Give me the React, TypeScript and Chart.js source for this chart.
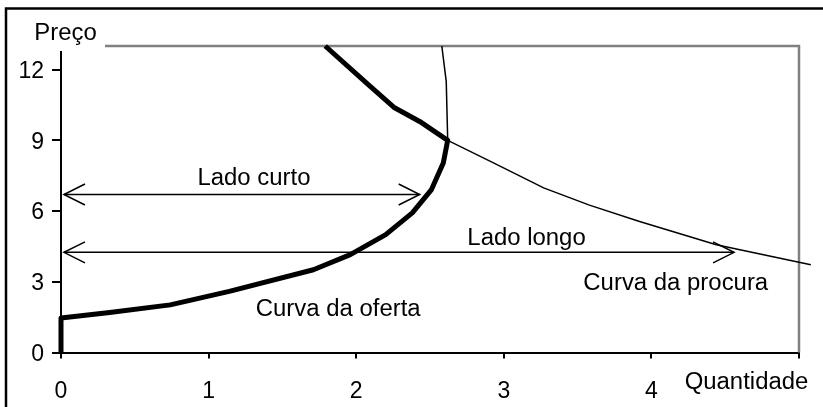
import React, { useEffect, useRef } from 'react';
import { Chart, registerables } from 'chart.js';

Chart.register(...registerables);

// ---- data ----
const xTickValues = [0, 1, 2, 3, 4, 5];
const xTickLabels = ['0', '1', '2', '3', '4', ''];
const yTickValues = [0, 3, 6, 9, 12];
const yTickLabels = ['0', '3', '6', '9', '12'];

const supplyQ = [0, 0, 0.33, 0.74, 1.14, 1.71, 1.96, 2.2, 2.38, 2.51, 2.59, 2.62, 2.43, 2.26, 2.08, 1.79];
const supplyP = [0, 1.46, 1.7, 2.02, 2.59, 3.51, 4.15, 5.0, 5.92, 6.91, 8.04, 9.0, 9.8, 10.38, 11.37, 13.0];

const demandQ = [2.58, 2.61, 2.62, 2.93, 3.27, 3.58, 3.92, 4.44, 5.08];
const demandP = [13.0, 11.5, 9.0, 8.04, 6.98, 6.25, 5.56, 4.57, 3.72];

const shortSideQ = [0.02, 2.43];
const shortSideP = [6.7, 6.7];
const longSideQ = [0.02, 4.56];
const longSideP = [4.25, 4.25];

const noteTexts = ['Lado curto', 'Lado longo', 'Curva da oferta', 'Curva da procura'];
const noteQ = [1.307, 3.154, 1.878, 4.165];
const noteP = [7.12, 4.57, 1.53, 2.63];

const yAxisTitle = 'Preço';
const xAxisTitle = 'Quantidade';

// ---- styles ----
const FONT = '"Liberation Sans", Arial, sans-serif';
const FONT_SIZE = 23;
const STRETCH = 1.04;

const toPts = (xs: number[], ys: number[]) => xs.map((x, i) => ({ x, y: ys[i] }));

function drawText(ctx: CanvasRenderingContext2D, text: string, x: number, y: number) {
  ctx.save();
  ctx.translate(x, y);
  ctx.scale(STRETCH, 1);
  ctx.fillText(text, 0, 0);
  ctx.restore();
}

const decor = {
  id: 'decor',
  beforeDatasetsDraw(chart: any) {
    const { ctx, chartArea: a } = chart;
    ctx.save();
    ctx.strokeStyle = '#808080';
    ctx.lineWidth = 2.5;
    ctx.beginPath();
    ctx.moveTo(a.left, a.top);
    ctx.lineTo(a.right, a.top);
    ctx.lineTo(a.right, a.bottom);
    ctx.stroke();
    ctx.restore();
  },
  afterDatasetsDraw(chart: any) {
    const { ctx, scales } = chart;
    ctx.save();
    ctx.strokeStyle = '#000';
    ctx.lineWidth = 1.5;
    [2, 3].forEach((i) => {
      const meta = chart.getDatasetMeta(i);
      const p0 = meta.data[0];
      const p1 = meta.data[meta.data.length - 1];
      const head = (x: number, y: number, dir: number) => {
        ctx.beginPath();
        ctx.moveTo(x + dir * 21, y - 10.5);
        ctx.lineTo(x, y);
        ctx.lineTo(x + dir * 21, y + 10.5);
        ctx.stroke();
      };
      head(p0.x, p0.y, 1);
      head(p1.x, p1.y, -1);
    });
    ctx.fillStyle = '#000';
    ctx.font = `${FONT_SIZE}px ${FONT}`;
    ctx.textAlign = 'center';
    ctx.textBaseline = 'alphabetic';
    noteTexts.forEach((t, i) => {
      drawText(ctx, t, scales.x.getPixelForValue(noteQ[i]), scales.y.getPixelForValue(noteP[i]));
    });
    ctx.restore();
  },
  afterDraw(chart: any) {
    const { ctx, chartArea: a } = chart;
    ctx.save();
    // white box behind the price title
    ctx.fillStyle = '#fff';
    ctx.fillRect(20, 14, a.left + 44 - 20, a.top + 5 - 14);
    // outer frame (left and top only)
    ctx.strokeStyle = '#000';
    ctx.lineWidth = 2.5;
    ctx.beginPath();
    ctx.moveTo(6, chart.height);
    ctx.lineTo(6, 8.5);
    ctx.lineTo(chart.width, 8.5);
    ctx.stroke();
    // axis titles
    ctx.fillStyle = '#000';
    ctx.font = `${FONT_SIZE}px ${FONT}`;
    ctx.textAlign = 'center';
    ctx.textBaseline = 'alphabetic';
    drawText(ctx, yAxisTitle, a.left + 4.5, a.top - 6);
    drawText(ctx, xAxisTitle, a.right - 52.5, a.bottom + 36);
    ctx.restore();
  },
};

export default function App() {
  const ref = useRef<HTMLCanvasElement | null>(null);
  useEffect(() => {
    document.body.style.margin = '0';
    const canvas = ref.current;
    if (!canvas) return;
    const chart = new Chart(canvas, {
      type: 'scatter',
      data: {
        datasets: [
          {
            label: 'Curva da oferta',
            data: toPts(supplyQ, supplyP),
            showLine: true,
            borderColor: '#000',
            borderWidth: 5,
            pointRadius: 0,
            tension: 0,
            borderJoinStyle: 'round',
            clip: false,
          },
          {
            label: 'Curva da procura',
            data: toPts(demandQ, demandP),
            showLine: true,
            borderColor: '#000',
            borderWidth: 1.5,
            pointRadius: 0,
            tension: 0,
            clip: false,
          },
          {
            label: 'Lado curto',
            data: toPts(shortSideQ, shortSideP),
            showLine: true,
            borderColor: '#000',
            borderWidth: 1.5,
            pointRadius: 0,
            clip: false,
          },
          {
            label: 'Lado longo',
            data: toPts(longSideQ, longSideP),
            showLine: true,
            borderColor: '#000',
            borderWidth: 1.5,
            pointRadius: 0,
            clip: false,
          },
        ],
      },
      options: {
        animation: false,
        responsive: false,
        events: [],
        layout: { padding: { left: 0, top: 46, right: 24, bottom: 0 } },
        plugins: {
          legend: { display: false },
          tooltip: { enabled: false },
          title: { display: false },
        },
        scales: {
          x: {
            type: 'linear',
            min: 0,
            max: 5,
            afterBuildTicks: (s: any) => {
              s.ticks = xTickValues.map((v) => ({ value: v }));
            },
            afterFit: (s: any) => {
              s.height = 54.5;
            },
            ticks: {
              callback: (_v: any, i: number) => xTickLabels[i],
              color: '#000',
              font: { family: FONT, size: FONT_SIZE },
              padding: 19,
              maxRotation: 0,
              autoSkip: false,
            },
            grid: {
              drawOnChartArea: false,
              drawTicks: true,
              tickLength: 6,
              color: '#000',
              lineWidth: 2,
            },
            border: { display: true, color: '#000', width: 2 },
          },
          y: {
            type: 'linear',
            min: 0,
            max: 13,
            afterBuildTicks: (s: any) => {
              s.ticks = yTickValues.map((v) => ({ value: v }));
            },
            afterFit: (s: any) => {
              s.width = 61;
            },
            ticks: {
              callback: (_v: any, i: number) => yTickLabels[i],
              color: '#000',
              font: { family: FONT, size: FONT_SIZE },
              padding: 8,
              labelOffset: 2,
              autoSkip: false,
            },
            grid: {
              drawOnChartArea: false,
              drawTicks: true,
              tickLength: 9,
              color: '#000',
              lineWidth: 2,
            },
            border: { display: true, color: '#000', width: 2 },
          },
        },
      },
      plugins: [decor],
    } as any);
    return () => chart.destroy();
  }, []);
  return (
    <div style={{ width: 823, height: 407, background: '#fff' }}>
      <canvas ref={ref} width={823} height={407} style={{ display: 'block' }} />
    </div>
  );
}
